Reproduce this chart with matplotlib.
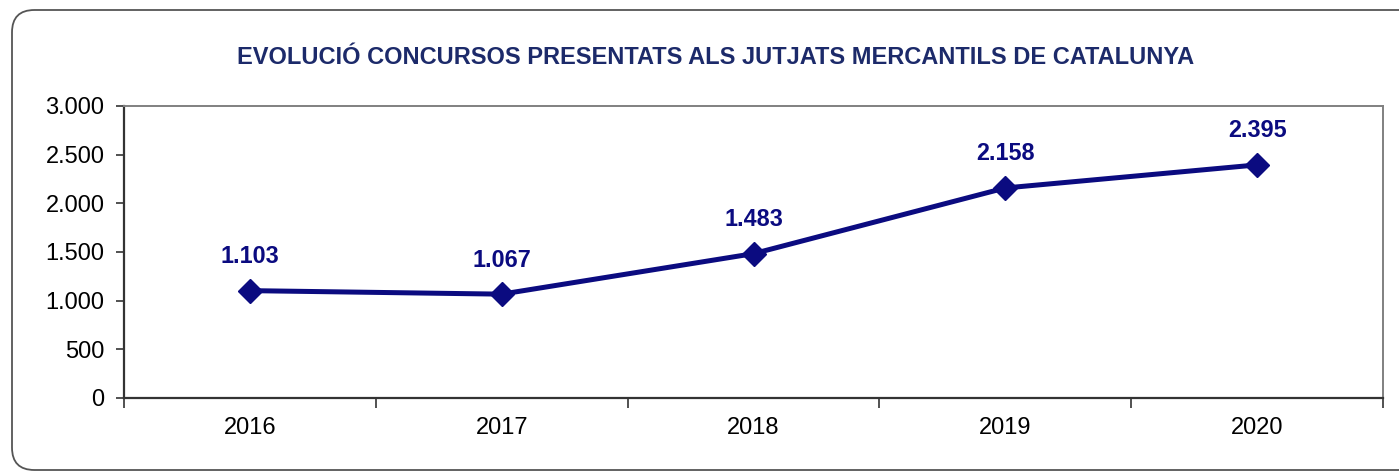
import matplotlib
matplotlib.use("Agg")
from matplotlib import pyplot as plt
from matplotlib.patches import FancyBboxPatch
from matplotlib.ticker import FuncFormatter, FixedLocator
import numpy as np

years = ["2016", "2017", "2018", "2019", "2020"]
concursos = [1103, 1067, 1483, 2158, 2395]
y_ticks = [0, 500, 1000, 1500, 2000, 2500, 3000]
title = "EVOLUCIÓ CONCURSOS PRESENTATS ALS JUTJATS MERCANTILS DE CATALUNYA"

navy = "#0b0b80"
title_color = "#1c2a6a"


def thousands(v, pos=None):
    # catalan style: dot as thousands separator
    return f"{int(v):,}".replace(",", ".")


plt.rcParams["font.family"] = ["Liberation Sans", "DejaVu Sans"]

fig = plt.figure(figsize=(13.99, 4.74), dpi=100)

# rounded outer frame
frame = FancyBboxPatch((12 / 1399, 1 - 470 / 474), 1420 / 1399, 460 / 474,
                       boxstyle="round,pad=0,rounding_size=0.016",
                       transform=fig.transFigure, facecolor="white",
                       edgecolor="#555555", linewidth=1.3, zorder=-5,
                       mutation_aspect=1399 / 474)
fig.patches.append(frame)

ax = fig.add_axes([124 / 1399, 76 / 474, (1383 - 124) / 1399, (398 - 106) / 474])
ax.set_facecolor("none")
ax.set_zorder(2)

x = np.arange(len(years))
ax.plot(x, concursos, color=navy, linewidth=3.6, marker="D", markersize=12,
        zorder=3, clip_on=False)
for xi, v in zip(x, concursos):
    ax.annotate(thousands(v), (xi, v), xytext=(0, 34), textcoords="offset pixels",
                ha="center", va="center", fontsize=16.8, fontweight="bold",
                color=navy)

ax.set_xlim(-0.5, len(years) - 0.5)
ax.set_ylim(0, 3000)
ax.yaxis.set_major_locator(FixedLocator(y_ticks))
ax.yaxis.set_major_formatter(FuncFormatter(thousands))
ax.set_xticks(x)
ax.set_xticklabels(years)
ax.set_xticks(np.arange(-0.5, len(years)), minor=True)
ax.tick_params(axis="x", which="major", length=0, pad=14, labelsize=17)
ax.tick_params(axis="x", which="minor", length=7, width=1.2, direction="out",
               color="#333333")
ax.tick_params(axis="y", length=6, width=1.2, pad=8, labelsize=17,
               color="#333333")

for side in ["left", "bottom"]:
    ax.spines[side].set_color("#333333")
    ax.spines[side].set_linewidth(1.6)
for side in ["top", "right"]:
    ax.spines[side].set_color("#808080")
    ax.spines[side].set_linewidth(1.4)

fig.text(716 / 1399, 1 - 58 / 474, title, ha="center", va="center",
         fontsize=17, fontweight="bold", color=title_color, zorder=3)

fig.savefig("out.png", dpi=100)
